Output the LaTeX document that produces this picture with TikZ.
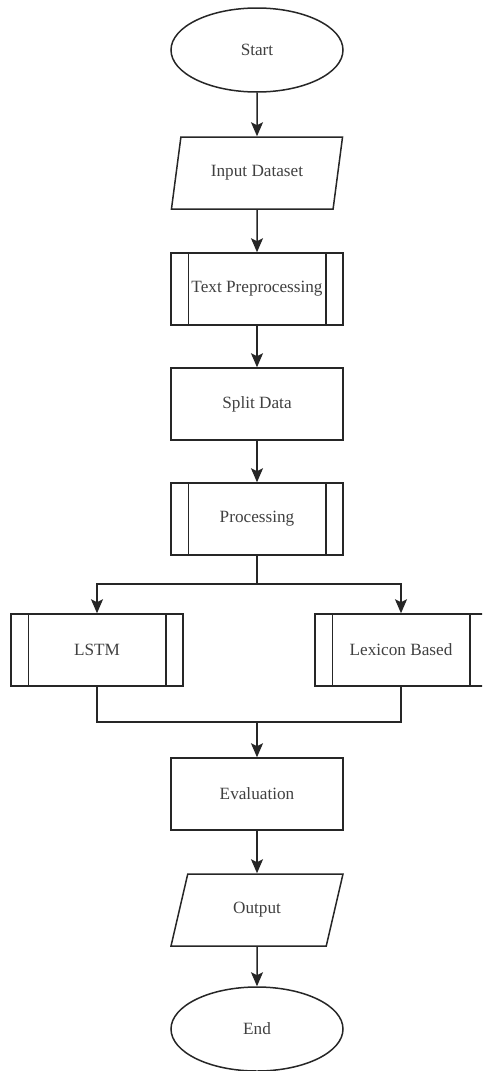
\documentclass[tikz,border=0pt]{standalone}
\usepackage{fontspec}
\setmainfont{Liberation Serif}
\usetikzlibrary{shapes.geometric,arrows.meta}
\begin{document}
\begin{tikzpicture}
[x=0.5pt,y=-0.5pt,
  textdecorate/.style={font=\fontsize{8.6}{10}\selectfont,text=black!75},
  termdecorate/.style={shape=ellipse,draw,textdecorate,minimum width=86pt,minimum height=42pt,inner sep=0pt},
  iodecorate/.style={shape=trapezium,trapezium left angle=69,trapezium right angle=111,trapezium stretches=true,draw,textdecorate,minimum width=86pt,minimum height=36pt,inner sep=0pt},
  procdecorate/.style={shape=rectangle,draw,textdecorate,minimum width=86pt,minimum height=36pt,inner sep=0pt},
  linedecorate/.style={-,line width=0.75pt,draw=black!85},
  arrowdecorate/.style={-{Stealth[length=7pt,width=6pt,inset=1.5pt]},line width=0.75pt,draw=black!85},
  every node/.append style={line width=0.75pt,draw=black!85}]
\useasboundingbox (0,0) rectangle (482,1071);
\clip (0,0) rectangle (482,1071);
%%% flowchart
% nodes
\node (start) at (257,50) [termdecorate] {Start};
\node (input) at (257,173) [iodecorate] {Input Dataset};
\node (prep) at (257,289) [procdecorate] {Text Preprocessing};
\node (split) at (257,404) [procdecorate] {Split Data};
\node (proc) at (257,519) [procdecorate] {Processing};
\node (lstm) at (97,650) [procdecorate] {LSTM};
\node (lex) at (401,650) [procdecorate] {Lexicon Based};
\node (eval) at (257,794) [procdecorate] {Evaluation};
\node (out) at (257,910) [iodecorate] {Output};
\node (end) at (257,1029) [termdecorate] {End};
\coordinate (fork) at (proc.south |- 0,584);
\coordinate (join) at (eval.north |- 0,722);
% inner bars of the predefined processes
\foreach \n in {prep,proc,lstm,lex}
{
  \draw[linedecorate] ([xshift=9pt]\n.north west) -- ([xshift=9pt]\n.south west);
  \draw[linedecorate] ([xshift=-9pt]\n.north east) -- ([xshift=-9pt]\n.south east);
}
% edges
\path
(start) edge[arrowdecorate] (input)
(input) edge[arrowdecorate] (prep)
(prep) edge[arrowdecorate] (split)
(split) edge[arrowdecorate] (proc)
(proc) edge[linedecorate] (fork)
(join) edge[arrowdecorate] (eval)
(eval) edge[arrowdecorate] (out)
(out) edge[arrowdecorate] (end);
\draw[arrowdecorate] (fork) -| (lstm);
\draw[arrowdecorate] (fork) -| (lex);
\draw[linedecorate] (lstm) |- (join);
\draw[linedecorate] (lex) |- (join);
\end{tikzpicture}
\end{document}
